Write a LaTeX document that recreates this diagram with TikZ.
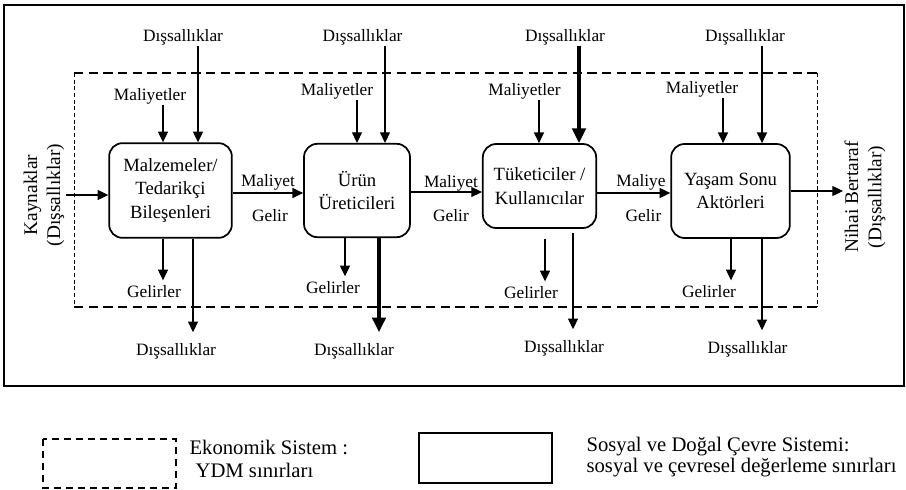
\documentclass[tikz,border=0pt]{standalone}
\usepackage{fontspec}
\setmainfont{Liberation Serif}
\usetikzlibrary{arrows.meta}

\begin{document}
\begin{tikzpicture}[x=0.75pt,y=-0.75pt,every node/.style={inner sep=1pt},
	lbl/.style={font=\fontsize{13}{15}\selectfont},
	side/.style={font=\fontsize{14.5}{17.3}\selectfont, rotate=90, align=center},
	actor/.style={draw, line width=1.3pt, rounded corners=10pt, align=center, font=\fontsize{14}{17.5}\selectfont},
	arr/.style={line width=0.8pt, -{Triangle[length=8pt,width=7.5pt]}},
	thickarr/.style={line width=3.4pt, -{Triangle[length=11pt,width=10pt]}},
	legend/.style={font=\fontsize{15.5}{18}\selectfont, anchor=west}]
	
	\useasboundingbox (0,0) rectangle (906,489);
	
	% sinirlar
	\draw[line width=1.3pt] (4,5) rectangle (904,386);
	\draw[line width=1pt, dash pattern=on 7pt off 4pt] (74,73) -- (817,73) (74,307) -- (817,307);
	\draw[line width=0.7pt, dash pattern=on 3pt off 2pt] (74,73) -- (74,307) (817,73) -- (817,307);
	
	% aktorler
	\node[actor, minimum width=92pt, minimum height=71pt] (malz) at (170.5,190.5) {Malzemeler/\\Tedarikçi\\Bileşenleri};
	\node[actor, minimum width=79.5pt, minimum height=70pt] (urun) at (357,190.5) {Ürün\\Üreticileri};
	\node[actor, minimum width=85pt, minimum height=63pt] (tuk) at (539.5,186) {Tüketiciler /\\Kullanıcılar};
	\node[actor, minimum width=89pt, minimum height=70.5pt] (yasam) at (730.5,191) {Yaşam Sonu\\Aktörleri};
	
	% giris ve cikis
	\node[side] (kay) at (44,195) {Kaynaklar\\(Dışsallıklar)};
	\node[side] (nihai) at (865,197) {Nihai Bertaraf\\(Dışsallıklar)};
	\draw[arr] (kay.south) -- (malz.west |- kay.south);
	\draw[arr] (yasam.east |- 0,191) -- (nihai.north |- 0,191);
	
	% ust etiketler
	\node[lbl] (d1) at (183,37) {Dışsallıklar};
	\node[lbl] (d2) at (362.5,37) {Dışsallıklar};
	\node[lbl] (d3) at (565,37) {Dışsallıklar};
	\node[lbl] (d4) at (745,37) {Dışsallıklar};
	\node[lbl] (m1) at (150,96) {Maliyetler};
	\node[lbl] (m2) at (337,91) {Maliyetler};
	\node[lbl] (m3) at (524.5,91) {Maliyetler};
	\node[lbl] (m4) at (702,89) {Maliyetler};
	
	\draw[arr] (163,0 |- m1.south) -- (163,0 |- malz.north);
	\draw[arr] (198,0 |- d1.south) -- (198,0 |- malz.north);
	\draw[arr] (357,0 |- m2.south) -- (357,0 |- urun.north);
	\draw[arr] (385,0 |- d2.south) -- (385,0 |- urun.north);
	\draw[arr] (539,0 |- m3.south) -- (539,0 |- tuk.north);
	\draw[thickarr] (579,0 |- d3.south) -- (579,0 |- tuk.north);
	\draw[arr] (723,0 |- m4.south) -- (723,0 |- yasam.north);
	\draw[arr] (762,0 |- d4.south) -- (762,0 |- yasam.north);
	
	% alt etiketler
	\node[lbl] (g1) at (154,292) {Gelirler};
	\node[lbl] (g2) at (333,288) {Gelirler};
	\node[lbl] (g3) at (531,293) {Gelirler};
	\node[lbl] (g4) at (709,292) {Gelirler};
	\node[lbl] (e1) at (176,351) {Dışsallıklar};
	\node[lbl] (e2) at (354,351) {Dışsallıklar};
	\node[lbl] (e3) at (564,348) {Dışsallıklar};
	\node[lbl] (e4) at (747.5,349) {Dışsallıklar};
	
	\draw[arr, shorten >=3pt] (163,0 |- malz.south) -- (163,0 |- g1.north);
	\draw[arr, shorten >=7pt] (193,0 |- malz.south) -- (193,0 |- e1.north);
	\draw[arr, shorten >=3pt] (345,0 |- urun.south) -- (345,0 |- g2.north);
	\draw[thickarr, shorten >=7pt] (379,0 |- urun.south) -- (379,0 |- e2.north);
	\draw[arr, shorten >=3pt] (545,0 |- tuk.south) ++(0,10) -- (545,0 |- g3.north);
	\draw[arr, shorten >=7pt] (573,0 |- tuk.south) ++(0,4) -- (573,0 |- e3.north);
	\draw[arr, shorten >=3pt] (731,0 |- yasam.south) -- (731,0 |- g4.north);
	\draw[arr, shorten >=7pt] (762,0 |- yasam.south) -- (762,0 |- e4.north);
	
	% aktorler arasi akislar
	\draw[arr] (malz.east |- 0,193) -- (urun.west |- 0,193);
	\draw[arr] (urun.east |- 0,192) -- (tuk.west |- 0,192);
	\draw[arr] (tuk.east |- 0,193) -- (yasam.west |- 0,193);
	\node[lbl] (c1) at (268,182) {Maliyet};
	\node[lbl] (c2) at (451,183) {Maliyet};
	\node[lbl] (c3) at (641,182) {Maliye};
	\node[lbl] (r1) at (270,216) {Gelir};
	\node[lbl] (r2) at (451,216) {Gelir};
	\node[lbl] (r3) at (643.5,216) {Gelir};
	
	% gosterim
	\draw[line width=1pt, dash pattern=on 5pt off 4pt] (43,439) rectangle (176,488);
	\draw[line width=1.1pt] (419,433) rectangle (552,483);
	\node[legend] (eko) at (188,447) {Ekonomik Sistem :};
	\node[legend] (ydm) at (194,470) {YDM sınırları};
	\node[legend] (sos) at (585,447) {Sosyal ve Doğal Çevre Sistemi:};
	\node[legend] (deg) at (585,468) {sosyal ve çevresel değerleme sınırları};
\end{tikzpicture}
\end{document}
